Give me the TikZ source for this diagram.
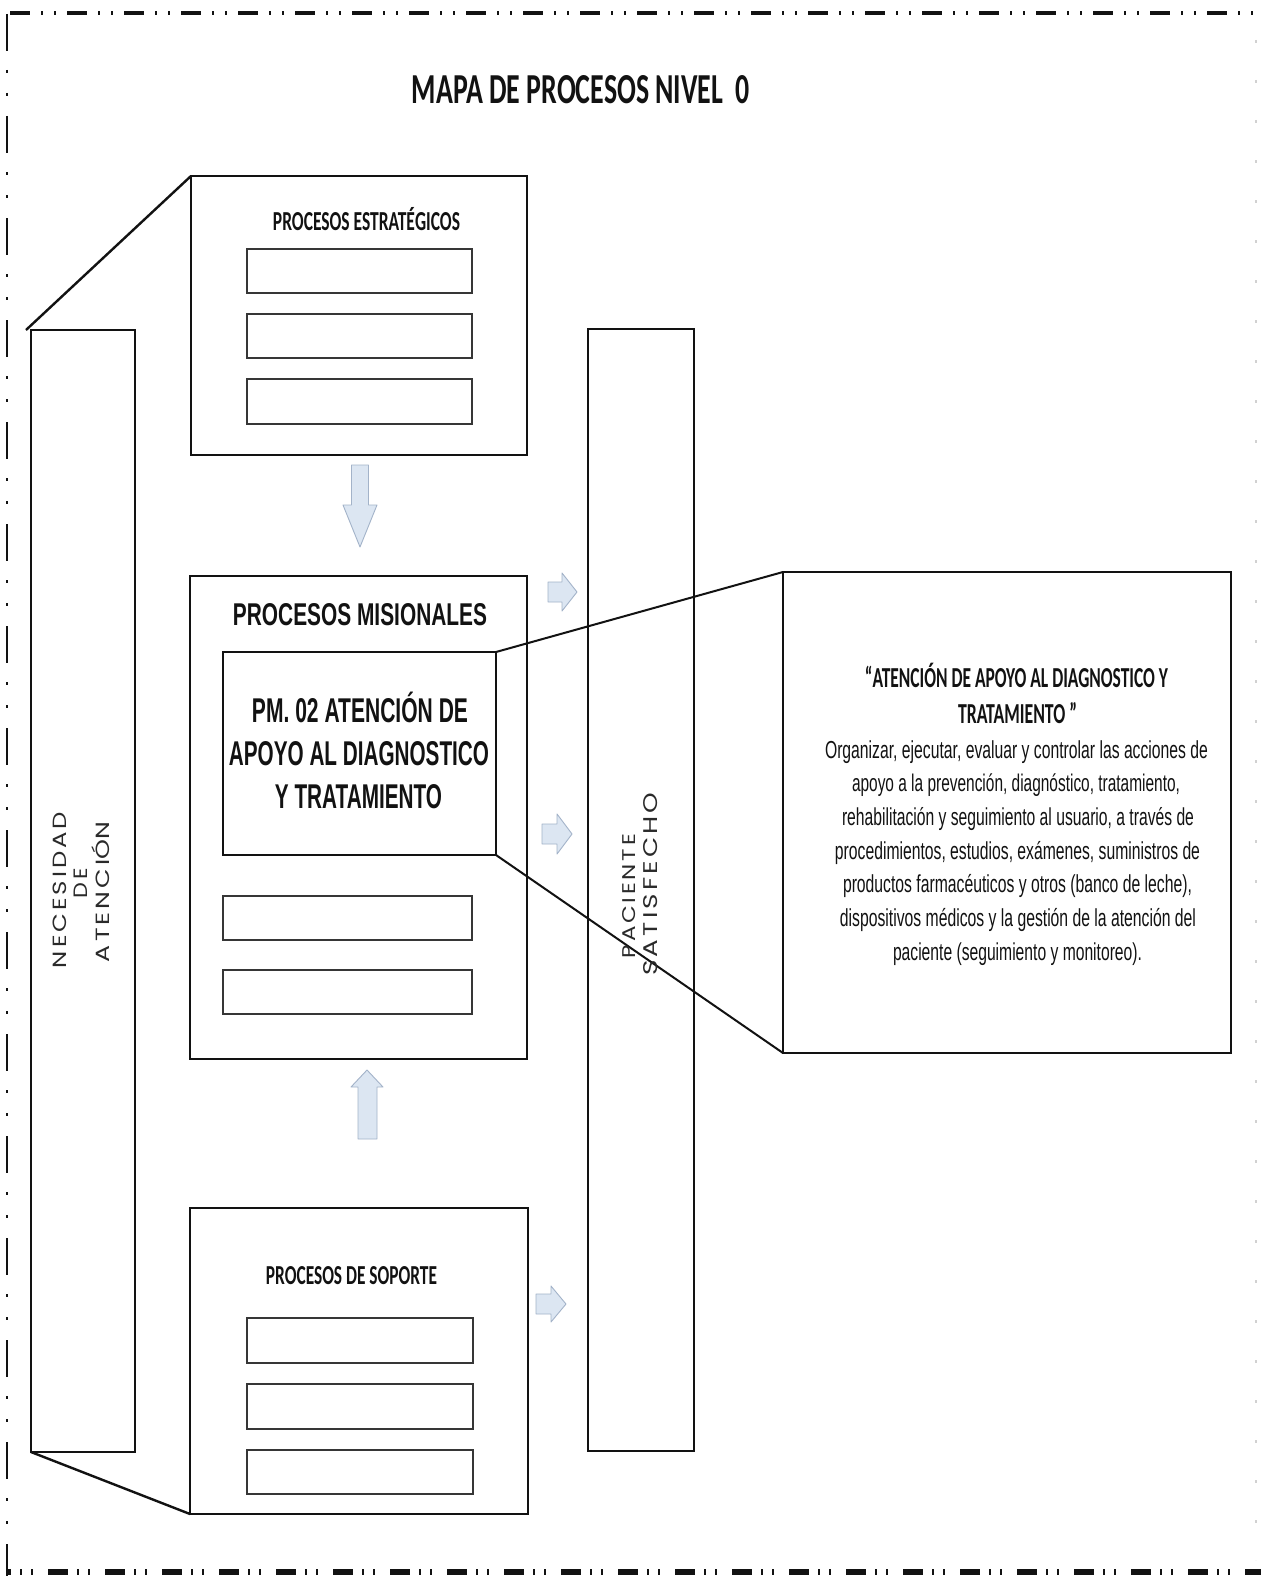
\documentclass[tikz,border=0pt]{standalone}
\usepackage{fontspec}
\usepackage{graphicx}
\setmainfont{Liberation Sans}
\newfontfamily\calibfont{Carlito}
\newfontfamily\arialfont{Liberation Sans}
\newfontfamily\arialnarrow[FakeStretch=0.64]{Liberation Sans}
\newfontfamily\gothicfont[LetterSpace=12]{Poppins}
\newcommand{\fitbox}[3]{\resizebox{#1pt}{#2pt}{#3}}
\newcommand{\fitw}[2]{\resizebox{#1pt}{!}{#2}}
\definecolor{arrowfill}{HTML}{DCE6F2}
\definecolor{arrowedge}{HTML}{A3B3C9}
\definecolor{ink}{HTML}{121212}
\begin{document}
\begin{tikzpicture}[x=1pt,y=-1pt,
  box/.style={draw=ink, line width=2pt, inner sep=0pt, outer sep=0pt, anchor=north west},
  inbox/.style={draw=ink!85, line width=1.3pt, inner sep=0pt, outer sep=0pt, anchor=north west},
  diag/.style={draw=ink, line width=2.4pt},
  txt/.style={inner sep=0pt, outer sep=0pt, anchor=base, text=ink},
  vtxt/.style={inner sep=0pt, outer sep=0pt, rotate=90, anchor=center, text=ink!90, font=\gothicfont},
  barrow/.style={fill=arrowfill, draw=arrowedge, line width=0.9pt, line join=round},
  bordertop/.style={draw=ink, line width=4pt, dash pattern=on 20pt off 11pt on 2pt off 11pt on 2pt off 11pt, dash phase=54pt},
  borderleft/.style={draw=ink, line width=2.5pt, dash pattern=on 37pt off 19pt on 3pt off 20pt on 3pt off 20pt},
  borderbottom/.style={draw=ink, line width=5.5pt, dash pattern=on 20pt off 9pt on 2pt off 9pt on 2pt off 15pt, dash phase=16pt},
  borderright/.style={draw=black!18, line width=1.5pt, dash pattern=on 3pt off 37pt}
]
\useasboundingbox (0,0) rectangle (1261,1576);
\fill[white] (0,0) rectangle (1261,1576);

% page border
\draw[bordertop] (7,13) -- (1261,13);
\draw[borderleft] (7,14) -- (7,1576);
\draw[borderbottom] (7,1572) -- (1261,1572);
\draw[borderright] (1256,40) -- (1256,1560);

% columns
\node[box, minimum width=104pt, minimum height=1122pt] (nec) at (31,330) {};
\node[box, minimum width=106pt, minimum height=1122pt] (pac) at (588,329) {};

% strategic processes
\node[box, minimum width=336pt, minimum height=279pt] (strat) at (191,176) {};
\node[inbox, minimum width=225pt, minimum height=44pt] (s1) at (247,249) {};
\node[inbox, minimum width=225pt, minimum height=44pt] (s2) at (247,314) {};
\node[inbox, minimum width=225pt, minimum height=45pt] (s3) at (247,379) {};

% missional processes
\node[box, minimum width=337pt, minimum height=483pt] (mis) at (190,576) {};
\node[box, minimum width=273pt, minimum height=203pt] (pm) at (223,652) {};
\node[inbox, minimum width=249pt, minimum height=44pt] (m1) at (223,896) {};
\node[inbox, minimum width=249pt, minimum height=44pt] (m2) at (223,970) {};

% support processes
\node[box, minimum width=338pt, minimum height=306pt] (sop) at (190,1208) {};
\node[inbox, minimum width=226pt, minimum height=45pt] (p1) at (247,1318) {};
\node[inbox, minimum width=226pt, minimum height=45pt] (p2) at (247,1384) {};
\node[inbox, minimum width=226pt, minimum height=44pt] (p3) at (247,1450) {};

% description box
\node[box, line width=2.3pt, minimum width=448pt, minimum height=481pt] (desc) at (783,572) {};

% diagonals
\coordinate (necT) at (26,330);
\draw[diag] (necT) -- (strat.north west);
\draw[diag] (nec.south west) -- (sop.south west);
\draw[diag, line width=2pt] (pm.north east) -- (desc.north west);
\draw[diag, line width=2pt] (pm.south east) -- (desc.south west);

% block arrows
\draw[barrow] (351.5,465) -- (368.5,465) -- (368.5,505) -- (377,505) -- (360,547) -- (343,505) -- (351.5,505) -- cycle;
\draw[barrow] (358,1139) -- (377,1139) -- (377,1087) -- (383,1087) -- (367,1070) -- (351,1087) -- (358,1087) -- cycle;
\draw[barrow] (548,582) -- (562,582) -- (562,573) -- (577,592) -- (562,611) -- (562,602) -- (548,602) -- cycle;
\draw[barrow] (542,824) -- (557,824) -- (557,814) -- (572,834) -- (557,854) -- (557,844) -- (542,844) -- cycle;
\draw[barrow] (536,1294) -- (551,1294) -- (551,1286) -- (566,1304) -- (551,1322) -- (551,1314) -- (536,1314) -- cycle;

% texts
\node[txt, font=\calibfont\bfseries] (title) at (581,103) {\fitbox{338}{28}{MAPA DE PROCESOS NIVEL\ \ 0}};
\node[txt, font=\calibfont\bfseries] (stratT) at (366.5,230) {\fitbox{187}{18}{PROCESOS ESTRAT\smash{É}GICOS}};
\node[txt, font=\calibfont\bfseries] (sopT) at (351.5,1284) {\fitbox{171}{18}{PROCESOS DE SOPORTE}};
\node[txt, font=\arialfont\bfseries] (misT) at (360,625) {\fitbox{254}{22}{PROCESOS MISIONALES}};
\node[txt, font=\arialfont\bfseries] (pmA) at (360,722) {\fitbox{216}{24}{PM. 02 ATENCI\smash{Ó}N DE}};
\node[txt, font=\arialfont\bfseries] (pmB) at (359,765) {\fitbox{260}{24}{APOYO AL DIAGNOSTICO}};
\node[txt, font=\arialfont\bfseries] (pmC) at (358.5,808) {\fitbox{167}{24}{Y TRATAMIENTO}};

\node[txt, font=\calibfont\bfseries] (hA) at (1016.5,687) {\fitbox{303}{19}{\smash{“}ATENCI\smash{Ó}N DE APOYO AL DIAGNOSTICO Y}};
\node[txt, font=\calibfont\bfseries] (hB) at (1017.5,723) {\fitbox{119}{19}{TRATAMIENTO \smash{”}}};

\node[txt, font=\arialnarrow\fontsize{23}{27}\selectfont] (b1) at (1016.5,758) {\fitw{383}{Organizar, ejecutar, evaluar y controlar las acciones de}};
\node[txt, font=\arialnarrow\fontsize{23}{27}\selectfont] (b2) at (1016,791.7) {\fitw{328}{apoyo a la prevención, diagnóstico, tratamiento,}};
\node[txt, font=\arialnarrow\fontsize{23}{27}\selectfont] (b3) at (1018,825.4) {\fitw{352}{rehabilitación y seguimiento al usuario, a través de}};
\node[txt, font=\arialnarrow\fontsize{23}{27}\selectfont] (b4) at (1017.5,859.1) {\fitw{365}{procedimientos, estudios, exámenes, suministros de}};
\node[txt, font=\arialnarrow\fontsize{23}{27}\selectfont] (b5) at (1017.5,892.8) {\fitw{349}{productos farmacéuticos y otros (banco de leche),}};
\node[txt, font=\arialnarrow\fontsize{23}{27}\selectfont] (b6) at (1018,926.5) {\fitw{356}{dispositivos médicos y la gestión de la atención del}};
\node[txt, font=\arialnarrow\fontsize{23}{27}\selectfont] (b7) at (1017.5,960.2) {\fitw{249}{paciente (seguimiento y monitoreo).}};

\node[vtxt] (necA) at (60,890) {\fitbox{156}{13.5}{NECESIDAD}};
\node[vtxt] (necB) at (81,883) {\fitbox{30}{13.5}{DE}};
\node[vtxt] (necC) at (103,892) {\fitbox{140}{13.5}{ATENCI\smash{Ó}N}};
\node[vtxt] (pacA) at (629,896) {\fitbox{124}{13}{PACIENTE}};
\node[vtxt] (pacB) at (651,884) {\fitbox{183}{14}{SATISFECHO}};
\end{tikzpicture}
\end{document}
